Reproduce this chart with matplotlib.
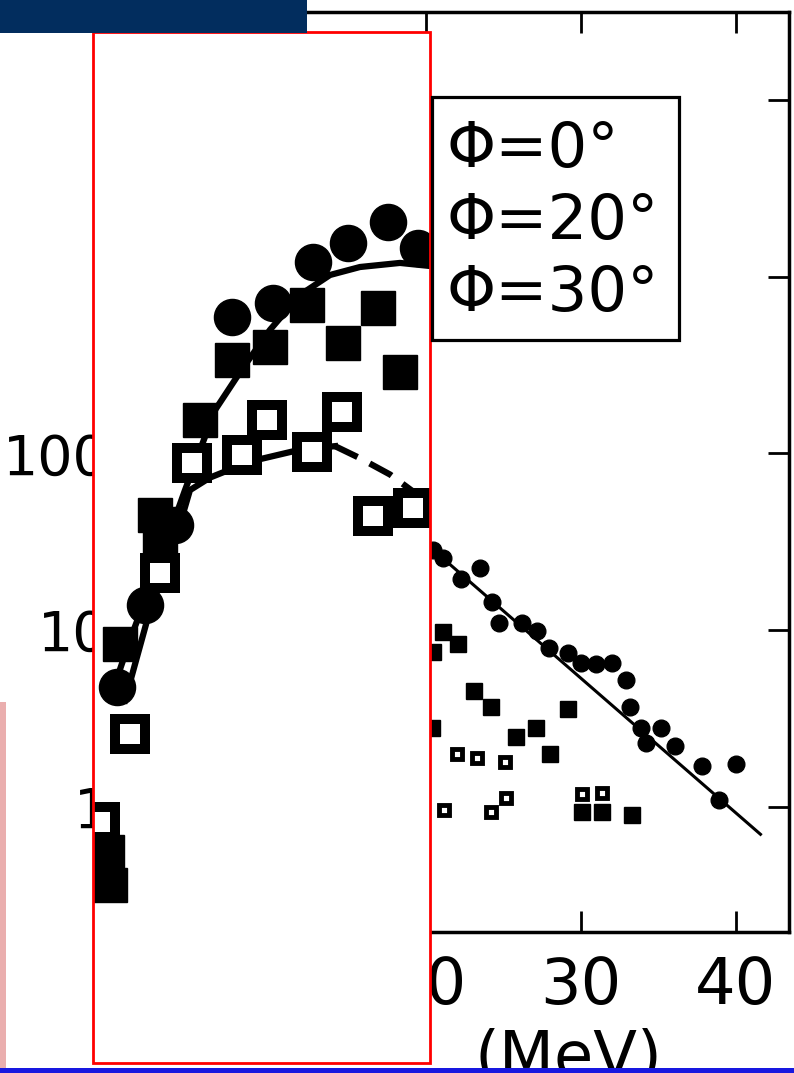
import matplotlib.pyplot as plt
from matplotlib.patches import Rectangle
from matplotlib.ticker import NullLocator

plt.rcParams['font.family'] = ['DejaVu Sans']

# --- data (E in MeV, yield) ---
# part of the plot right of the white panel
e_phi0 = [20.5, 21.1, 22.3, 23.5, 24.3, 24.7, 26.2, 27.2, 27.95, 29.2, 30.0,
          31.0, 32.0, 32.9, 33.2, 33.9, 34.2, 35.2, 36.1, 37.8, 38.9, 40.0]
y_phi0 = [28.4, 25.6, 19.5, 22.5, 14.5, 11.0, 11.0, 9.9, 7.9, 7.4, 6.5,
          6.4, 6.5, 5.2, 3.7, 2.8, 2.3, 2.8, 2.2, 1.7, 1.1, 1.75]
e_phi20 = [20.4, 20.5, 21.1, 22.1, 23.1, 24.2, 25.8, 27.1, 28.0, 29.2, 30.1, 31.4, 33.3]
y_phi20 = [2.8, 7.5, 9.8, 8.4, 4.5, 3.7, 2.5, 2.8, 2.0, 3.6, 0.94, 0.94, 0.90]
e_phi30 = [21.2, 22.0, 23.3, 24.2, 25.1, 25.2, 30.1, 31.4]
y_phi30 = [0.96, 2.0, 1.9, 0.94, 1.8, 1.12, 1.18, 1.2]
fit_e = [20.0, 41.6]
fit_y = [31.0, 0.70]

# pasted (enlarged) part inside the red panel
in_e_phi0 = [0.08, 1.89, 3.83, 7.50, 10.15, 12.73, 14.99, 17.57, 19.50]
in_y_phi0 = [4.8, 13.9, 39.4, 592, 711, 1213, 1552, 2040, 1455]
in_e_phi20 = [-0.56, -0.37, 0.28, 2.54, 2.86, 5.44, 7.50, 9.95, 12.34, 14.66, 16.92, 18.34]
in_y_phi20 = [0.556, 0.362, 8.3, 45, 30, 155, 338, 401, 692, 422, 665, 289]
in_e_phi30 = [-1.01, 0.92, 2.86, 4.92, 8.15, 9.76, 12.66, 14.60, 16.60, 19.18]
in_y_phi30 = [0.82, 2.6, 21, 88, 98, 155, 102, 172, 44, 49]
in_fit_e = [-0.17, 0.92, 2.86, 4.47, 6.41, 8.12, 9.95, 11.89, 13.83, 15.76, 18.34, 20.28]
in_fit_y = [4.6, 8.8, 25, 62, 176, 297, 500, 789, 1023, 1135, 1197, 1150]
in_low_e = [0.60, 2.21, 3.83, 4.79, 6.08, 8.66, 11.89, 14.15]
in_low_y = [4.0, 13.0, 32, 62, 73, 90, 105, 110]
in_dash_e = [14.15, 15.76, 17.70, 19.63, 20.4]
in_dash_y = [110, 94, 76, 57, 52]

legend_txt = ['Φ=0°', 'Φ=20°', 'Φ=30°']
xticks = [0, 10, 20, 30, 40]
yticks = [1, 10, 100, 1000, 10000]
ylabels = ['1', '10', '100', '', '']

W, H = 794, 1073
fig = plt.figure(figsize=(W/100, H/100), dpi=100)
fig.patch.set_facecolor('white')

ax = fig.add_axes([115.7/W, (H-932)/H, (789-115.7)/W, (932-12)/H])
ax.set_yscale('log')
ax.set_xlim(0, 43.44)
ax.set_ylim(0.196, 31470)
for s in ax.spines.values():
  s.set_linewidth(2.5)
ax.set_xticks(xticks)
ax.set_xticklabels([str(t) for t in xticks])
ax.set_yticks(yticks)
ax.set_yticklabels(ylabels)
ax.yaxis.set_minor_locator(NullLocator())
ax.tick_params(which='major', direction='in', top=True, right=True,
               length=15, width=2, labelsize=46, color='black')
ax.tick_params(axis='x', pad=16.5)
ax.tick_params(axis='y', pad=5, labelsize=40)
ax.set_xlabel('(MeV)', fontsize=46, va='top')
ax.xaxis.set_label_coords(0.672, -0.104)

# outer data (under the white panel)
kwa = dict(linestyle='none', color='black', zorder=2)
ax.plot(e_phi0, y_phi0, marker='o', ms=12, **kwa)
ax.plot(e_phi20, y_phi20, marker='s', ms=11.5, **kwa)
ax.plot(e_phi30, y_phi30, marker='s', ms=7.7, mfc='white', mec='black', mew=3.5, **kwa)
ax.plot(fit_e, fit_y, color='black', lw=2.2, zorder=2)

# white panel with red border
panel = Rectangle((93/W, (H-1063)/H), 337/W, 1031/H, transform=fig.transFigure,
                  facecolor='white', edgecolor='none', clip_on=False, zorder=3)
ax.add_patch(panel)
border = Rectangle((93/W, (H-1063)/H), 337/W, 1031/H, transform=fig.transFigure,
                   facecolor='none', edgecolor='#ff0000', lw=2, clip_on=False, zorder=6)
ax.add_patch(border)

# enlarged pasted data inside the panel
arts = []
arts += ax.plot(in_fit_e, in_fit_y, color='black', lw=4.5, zorder=4)
arts += ax.plot(in_low_e, in_low_y, color='black', lw=4.5, zorder=4)
arts += ax.plot(in_dash_e, in_dash_y, color='black', lw=4.5, dashes=(4, 2.2), zorder=4)
kwa = dict(linestyle='none', color='black', zorder=5)
arts += ax.plot(in_e_phi0, in_y_phi0, marker='o', ms=26, **kwa)
arts += ax.plot(in_e_phi20, in_y_phi20, marker='s', ms=25, **kwa)
arts += ax.plot(in_e_phi30, in_y_phi30, marker='s', ms=21.6, mfc='white', mec='black', mew=7.2, **kwa)
for a in arts:
  a.set_clip_path(panel)

# legend box
x0, x1 = (432-115.7)/673.3, (679-115.7)/673.3
y0, y1 = (932-340)/920, (932-97)/920
ax.add_patch(Rectangle((x0, y0), x1-x0, y1-y0, transform=ax.transAxes, facecolor='white',
                       edgecolor='black', lw=2.3, zorder=6))
for i, t in enumerate(legend_txt):
  ax.text(0.492, (932-150-72*i)/920, t, transform=ax.transAxes, fontsize=45,
          va='center', ha='left', zorder=7)

# slide decorations
fig.patches.append(Rectangle((0, (H-33)/H), 307/W, 33/H, transform=fig.transFigure,
                             facecolor='#022d5e', edgecolor='none', zorder=10))
fig.patches.append(Rectangle((0, 0), 1, 5/H, transform=fig.transFigure,
                             facecolor='#1818e0', edgecolor='none', zorder=10))
fig.patches.append(Rectangle((0, 5/H), 6/W, (1066-700)/H, transform=fig.transFigure,
                             facecolor='#eaaeae', edgecolor='none', zorder=9))

fig.savefig('out.png', dpi=100, facecolor='white')
plt.close(fig)
